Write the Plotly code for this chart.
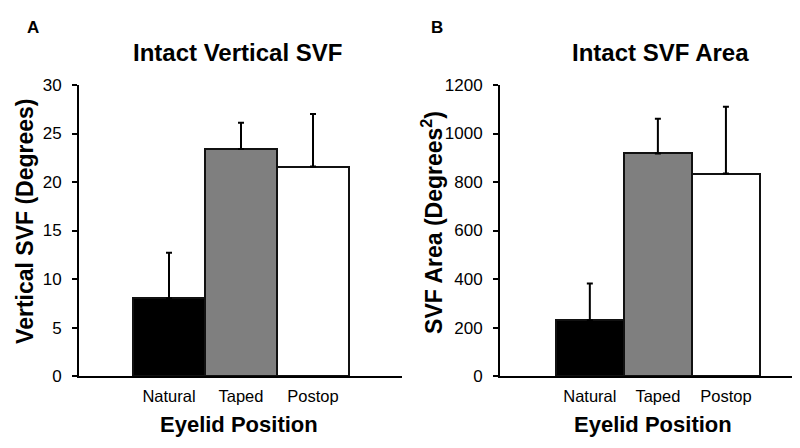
import plotly.graph_objects as go

categories = ["Natural", "Taped", "Postop"]
colors = ["#000000", "#7f7f7f", "#ffffff"]

svf_vertical = [8.0, 23.4, 21.6]
svf_vertical_err = [4.7, 2.7, 5.4]

svf_area = [230, 918, 835]
svf_area_err = [152, 143, 275]

yticks_a = [0, 5, 10, 15, 20, 25, 30]
yticks_b = [0, 200, 400, 600, 800, 1000, 1200]

FONT = "Liberation Sans, Arial, sans-serif"
W, H = 800.0, 448.0
OFF = 8  # page offset of the plot div

def px(x):
    return (x - OFF) / W

def py(y):
    return 1 - (y - OFF) / H

fig = go.Figure()

def add_bars(vals, errs, xa, ya):
    fig.add_trace(go.Bar(
        x=categories, y=vals, width=1,
        marker=dict(color=colors, line=dict(color="#111111", width=2)),
        error_y=dict(type="data", array=errs, arrayminus=[0] * len(errs), symmetric=False,
                     color="#000000", thickness=2, width=3),
        xaxis=xa, yaxis=ya, showlegend=False,
    ))

add_bars(svf_vertical, svf_vertical_err, "x", "y")
add_bars(svf_area, svf_area_err, "x2", "y2")

ydom = [py(383), py(79)]

xcommon = dict(type="category", showline=True, linecolor="#000000", linewidth=2,
               ticks="", showgrid=False, zeroline=False,
               tickfont=dict(family=FONT, size=16.5, color="#000000"),
               ticklabelstandoff=4)
ycommon = dict(showline=True, linecolor="#000000", linewidth=2,
               ticks="outside", ticklen=5, tickwidth=2, tickcolor="#000000",
               showgrid=False, zeroline=False,
               tickfont=dict(family=FONT, size=17, color="#000000"),
               ticklabelstandoff=7)

fig.update_layout(
    width=800, height=448,
    margin=dict(l=0, r=0, t=0, b=0),
    paper_bgcolor="#ffffff", plot_bgcolor="#ffffff",
    bargap=0,
    font=dict(family=FONT, color="#000000"),
    xaxis=dict(domain=[px(79), px(402)], range=[-1.25, 3.236], anchor="y", **xcommon),
    yaxis=dict(domain=ydom, range=[0, 30], tickvals=yticks_a, anchor="x", **ycommon),
    xaxis2=dict(domain=[px(500), 1.0], range=[-1.32, 3.206], anchor="y2", **xcommon),
    yaxis2=dict(domain=ydom, range=[0, 1200], tickvals=yticks_b, anchor="x2", **ycommon),
)

def ann(text, x, y, size, angle=0):
    fig.add_annotation(text=text, x=px(x), y=py(y), xref="paper", yref="paper",
                       showarrow=False, textangle=angle, xanchor="center", yanchor="middle",
                       font=dict(family=FONT, size=size, color="#000000"))

ann("<b>A</b>", 33, 19, 17)
ann("<b>B</b>", 437, 19, 17)
ann("<b>Intact Vertical SVF</b>", 238, 45, 24)
ann("<b>Intact SVF Area</b>", 660, 45, 24)
ann("<b>Vertical SVF (Degrees)</b>", 25, 222, 23, -90)
ann("<b>SVF Area (Degrees<sup>2</sup>)</b>", 432, 223, 23, -90)
ann("<b>Eyelid Position</b>", 239, 434, 22)
ann("<b>Eyelid Position</b>", 653, 434, 22)

fig.write_html("out.html")
